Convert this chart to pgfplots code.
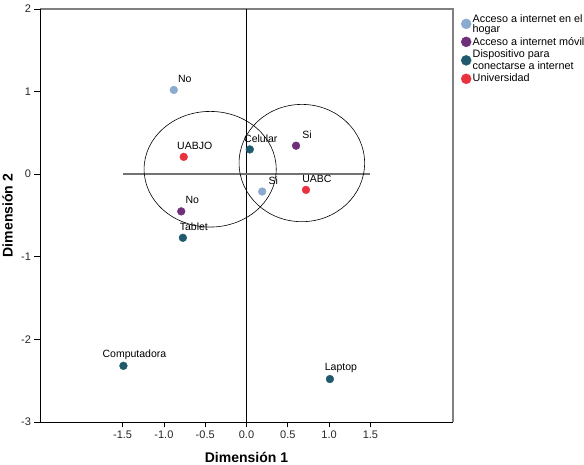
\documentclass[border=0pt]{standalone}
\usepackage{pgfplots}
\pgfplotsset{compat=1.18}
\usepackage{fontspec}
\setmainfont{Liberation Sans}
\definecolor{chogar}{HTML}{8AAACF}
\definecolor{cmovil}{HTML}{702F7A}
\definecolor{cdisp}{HTML}{1F5A6E}
\definecolor{cuniv}{HTML}{E8323E}
\definecolor{framegray}{HTML}{808080}
\begin{document}
\begin{tikzpicture}
\begin{axis}[
  scale only axis, width=413pt, height=413pt,
  xmin=-2.5, xmax=2.5, ymin=-3, ymax=2,
  axis line style={draw=none},
  xtick={-1.5,-1,-0.5,0,0.5,1,1.5},
  ytick={-3,-2,-1,0,1,2},
  x tick label style={/pgf/number format/fixed, /pgf/number format/fixed zerofill, /pgf/number format/precision=1},
  /pgf/number format/assume math mode=true,
  tick align=outside,
  xtick pos=bottom, ytick pos=left,
  major tick length=5.5pt,
  tick style={black, line width=0.8pt},
  ticklabel style={font=\fontsize{11}{13}\selectfont, text=black!85},
  xlabel={\textbf{Dimensión 1}},
  ylabel={\textbf{Dimensión 2}},
  label style={font=\fontsize{14}{16}\selectfont, inner sep=0pt},
  x label style={at={(axis description cs:0.5,0)}, anchor=center, yshift=-35pt},
  y label style={at={(axis description cs:0,0.5)}, anchor=center, yshift=32.5pt},
  legend style={at={(1,1)}, anchor=north west, xshift=7pt, yshift=-2.5pt, draw=none, fill=none,
    font=\fontsize{10.8}{10}\selectfont, inner sep=1pt, row sep=0.6pt,
    cells={anchor=west, align=left}, nodes={inner sep=1.5pt}},
  legend image post style={mark size=5pt},
  nodes near coords,
  point meta=explicit symbolic,
  nodes near coords align={anchor=center},
  every node near coord/.append style={xshift=11pt, yshift=11pt, font=\fontsize{10.5}{12}\selectfont, text=black, inner sep=0pt},
  clip=false,
]
% frame
\draw[framegray, line width=1.2pt] (rel axis cs:0,1) -- (rel axis cs:1,1) -- (rel axis cs:1,0);
\draw[black, line width=0.9pt] (rel axis cs:0,1) -- (rel axis cs:0,0) -- (rel axis cs:1,0);
% reference lines
\draw[black, line width=0.8pt] (axis cs:0,-3) -- (axis cs:0,2);
\draw[black!55, line width=1.5pt] (axis cs:-1.5,0) -- (axis cs:1.5,0);
% ellipses
\draw[black, line width=0.6pt] (axis cs:-0.44,0.06) ellipse [x radius=0.80, y radius=0.70];
\draw[black, line width=0.6pt] (axis cs:0.67,0.135) ellipse [x radius=0.76, y radius=0.71];

\addplot[only marks, mark=*, mark size=3.9pt, draw=chogar, fill=chogar] table[meta=label] {
x y label
-0.88 1.02 No
0.19 -0.21 Si
};
\addlegendentry{Acceso a internet en el\\hogar}
\addplot[only marks, mark=*, mark size=3.9pt, draw=cmovil, fill=cmovil] table[meta=label] {
x y label
0.60 0.345 Si
-0.79 -0.45 No
};
\addlegendentry{Acceso a internet móvil}
\addplot[only marks, mark=*, mark size=3.9pt, draw=cdisp, fill=cdisp] table[meta=label] {
x y label
0.04 0.30 Celular
-0.77 -0.77 Tablet
-1.49 -2.32 Computadora
1.01 -2.48 Laptop
};
\addlegendentry{Dispositivo para\\conectarse a internet}
\addplot[only marks, mark=*, mark size=3.9pt, draw=cuniv, fill=cuniv] table[meta=label] {
x y label
-0.76 0.21 UABJO
0.72 -0.19 UABC
};
\addlegendentry{Universidad}
\coordinate (LL) at (rel axis cs:0,0);
\coordinate (UR) at (rel axis cs:1,1);
\end{axis}
\pgfresetboundingbox
\path ([shift={(-40pt,-42pt)}]LL) rectangle ([shift={(131pt,9pt)}]UR);
\end{tikzpicture}
\end{document}
